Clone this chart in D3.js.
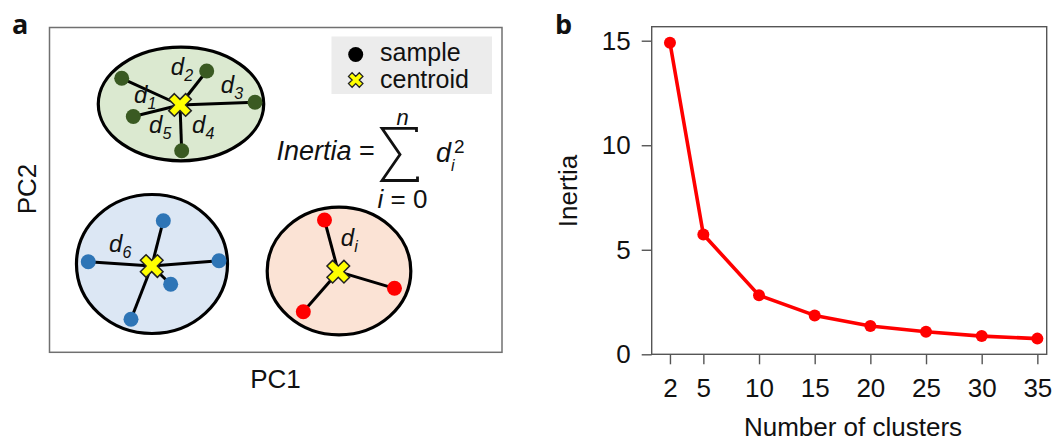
<!DOCTYPE html>
<html>
<head>
<meta charset="utf-8">
<script src="https://cdn.jsdelivr.net/npm/d3@7"></script>
<style>
body { margin: 0; background: #fff; }
svg { display: block; font-family: "Liberation Sans", Arial, sans-serif; }
</style>
</head>
<body>
<div id="vue"></div>
<script>
// panel b : courbe du coude
var clusters = [2, 5, 10, 15, 20, 25, 30, 35];
var inertia = [14.9, 5.73, 2.82, 1.86, 1.35, 1.08, 0.87, 0.75];
var xTicks = [2, 5, 10, 15, 20, 25, 30, 35];
var yTicks = [0, 5, 10, 15];

// panel a : schéma (PC1 / PC2 en unités arbitraires 0-100)
var centroidPC1 = [28.84, 22.59, 63.82];
var centroidPC2 = [76.14, 26.57, 24.82];
var samplePC1 = [[15.96, 34.74, 45.41, 18.52, 29.21], [25.15, 8.57, 37.46, 26.78, 18.01], [60.77, 76.24, 56.09]];
var samplePC2 = [[84.36, 86.61, 76.97, 72.60, 62.07], [40.52, 27.89, 28.20, 20.94, 10.16], [40.73, 19.70, 12.50]];
var hullPC1 = [29.06, 22.65, 63.98];
var hullPC2 = [76.45, 27.19, 25.03];
var hullR1 = [18.28, 16.69, 15.87];
var hullR2 = [17.49, 21.40, 19.64];
var distSub = ["1", "2", "3", "5", "4", "6", "i"];
var distPC1 = [18.70, 26.8, 37.86, 22.01, 31.51, 13.17, 64.37];
var distPC2 = [76.66, 85.37, 79.74, 67.43, 67.43, 31.03, 32.73];

var legendLabels = ["sample", "centroid"];

var hullFill = ["#dbe9d0", "#dce7f4", "#fbe3d5"];
var dotFill = ["#3a5a22", "#2e75b6", "#ff0000"];

var svg = d3.select("#vue").append("svg")
  .attr("width", 1058)
  .attr("height", 443);

// ================= panel a =================
var xA = d3.scaleLinear().domain([0, 100]).range([49.5, 502]);
var yA = d3.scaleLinear().domain([0, 100]).range([352.3, 27.5]);

svg.append("rect")
  .attr("x", xA(0)).attr("y", yA(100))
  .attr("width", xA(100) - xA(0)).attr("height", yA(0) - yA(100))
  .attr("fill", "none").attr("stroke", "#707070").attr("stroke-width", 1.5);

var groups = svg.selectAll("g.cluster")
  .data(centroidPC1.map(function (d, i) { return i; }))
  .enter().append("g").attr("class", "cluster");

groups.append("ellipse")
  .attr("cx", function (i) { return xA(hullPC1[i]); })
  .attr("cy", function (i) { return yA(hullPC2[i]); })
  .attr("rx", function (i) { return xA(hullR1[i]) - xA(0); })
  .attr("ry", function (i) { return yA(0) - yA(hullR2[i]); })
  .attr("fill", function (i) { return hullFill[i]; })
  .attr("stroke", "#000").attr("stroke-width", 3.2);

groups.each(function (i) {
  var g = d3.select(this);
  var pts = samplePC1[i].map(function (x, j) { return [x, samplePC2[i][j]]; });
  g.selectAll("line").data(pts).enter().append("line")
    .attr("x1", xA(centroidPC1[i])).attr("y1", yA(centroidPC2[i]))
    .attr("x2", function (p) { return xA(p[0]); })
    .attr("y2", function (p) { return yA(p[1]); })
    .attr("stroke", "#000").attr("stroke-width", 3);
  g.selectAll("circle").data(pts).enter().append("circle")
    .attr("cx", function (p) { return xA(p[0]); })
    .attr("cy", function (p) { return yA(p[1]); })
    .attr("r", 7.5)
    .attr("fill", dotFill[i]);
});

var cross = d3.symbol().type(d3.symbolCross);

groups.append("path")
  .attr("d", cross.size(320)())
  .attr("transform", function (i) {
    return "translate(" + xA(centroidPC1[i]) + "," + yA(centroidPC2[i]) + ") rotate(45)";
  })
  .attr("fill", "#ffff00").attr("stroke", "#222").attr("stroke-width", 1.5);

// étiquettes d_k
var lab = svg.selectAll("text.dist").data(distSub).enter().append("text")
  .attr("class", "dist")
  .attr("x", function (d, i) { return xA(distPC1[i]); })
  .attr("y", function (d, i) { return yA(distPC2[i]); })
  .attr("font-size", 24).attr("font-style", "italic").attr("fill", "#111");
lab.append("tspan").text("d");
lab.append("tspan").attr("dy", 6).attr("font-size", 16).text(function (d) { return d; });

// légende
svg.append("rect")
  .attr("x", 331.5).attr("y", 36.5).attr("width", 160.5).attr("height", 57.5)
  .attr("fill", "#ececec");
svg.append("circle").attr("cx", 355.7).attr("cy", 54.5).attr("r", 7.5).attr("fill", "#000");
svg.append("path")
  .attr("d", cross.size(130)())
  .attr("transform", "translate(355.7,80) rotate(45)")
  .attr("fill", "#ffff00").attr("stroke", "#222").attr("stroke-width", 1.3);
svg.selectAll("text.leg").data(legendLabels).enter().append("text")
  .attr("class", "leg")
  .attr("x", 380)
  .attr("y", function (d, i) { return 60.5 + 27.5 * i; })
  .attr("font-size", 25).attr("fill", "#111")
  .text(function (d) { return d; });

// formule
var f = svg.append("text").attr("x", 276.5).attr("y", 160).attr("font-size", 27).attr("fill", "#111");
f.append("tspan").attr("font-style", "italic").text("Inertia");
f.append("tspan").text(" =");
svg.append("path")
  .attr("d", "M416.5,132 L416.5,128.3 L382,128.3 L400,154.5 L382,180.5 L417.5,180.5 L417.5,176.5")
  .attr("fill", "none").attr("stroke", "#111").attr("stroke-width", 2.8)
  .attr("stroke-linejoin", "miter");
svg.append("text").attr("x", 402.5).attr("y", 125).attr("text-anchor", "middle")
  .attr("font-size", 22).attr("font-style", "italic").attr("fill", "#111").text("n");
var lo = svg.append("text").attr("x", 402.5).attr("y", 208).attr("text-anchor", "middle")
  .attr("font-size", 26).attr("fill", "#111");
lo.append("tspan").attr("font-style", "italic").text("i");
lo.append("tspan").text(" = 0");
svg.append("text").attr("x", 436).attr("y", 161.5).attr("font-size", 27)
  .attr("font-style", "italic").attr("fill", "#111").text("d");
svg.append("text").attr("x", 451).attr("y", 171).attr("font-size", 16)
  .attr("font-style", "italic").attr("fill", "#111").text("i");
svg.append("text").attr("x", 454).attr("y", 153.3).attr("font-size", 19)
  .attr("fill", "#111").text("2");

svg.append("text").attr("x", 275.5).attr("y", 388).attr("text-anchor", "middle")
  .attr("font-size", 26).attr("fill", "#111").text("PC1");
svg.append("text")
  .attr("transform", "translate(36,189) rotate(-90)")
  .attr("text-anchor", "middle")
  .attr("font-size", 26).attr("fill", "#111").text("PC2");

svg.append("text").attr("x", 12).attr("y", 33.5)
  .attr("font-family", "'Open Sans', 'Noto Sans', sans-serif")
  .attr("font-weight", "bold").attr("font-size", 27).attr("fill", "#111").text("a");

// ================= panel b =================
var xB = d3.scaleLinear().domain([0.36, 35.84]).range([651.7, 1046.7]);
var yB = d3.scaleLinear().domain([0, 15.67]).range([354.3, 26.7]);

var axisY = svg.append("g")
  .attr("transform", "translate(" + xB.range()[0] + ",0)")
  .call(d3.axisLeft(yB).tickValues(yTicks).tickSize(10).tickPadding(11));
var axisX = svg.append("g")
  .attr("transform", "translate(0," + yB.range()[0] + ")")
  .call(d3.axisBottom(xB).tickValues(xTicks).tickSize(10).tickPadding(14));

[axisX, axisY].forEach(function (a) {
  a.select(".domain").remove();
  a.selectAll("line").attr("stroke", "#555").attr("stroke-width", 1.4);
  a.selectAll("text")
    .attr("font-family", "'Liberation Sans', Arial, sans-serif")
    .attr("font-size", 26).attr("fill", "#111");
});

svg.append("rect")
  .attr("x", xB.range()[0]).attr("y", yB.range()[1])
  .attr("width", xB.range()[1] - xB.range()[0])
  .attr("height", yB.range()[0] - yB.range()[1])
  .attr("fill", "none").attr("stroke", "#555").attr("stroke-width", 1.4);

var line = d3.line()
  .x(function (d, i) { return xB(clusters[i]); })
  .y(function (d) { return yB(d); });

svg.append("path")
  .datum(inertia)
  .attr("d", line)
  .attr("fill", "none").attr("stroke", "#ff0000").attr("stroke-width", 3.6)
  .attr("stroke-linejoin", "round");

svg.selectAll("circle.pt").data(inertia).enter().append("circle")
  .attr("class", "pt")
  .attr("cx", function (d, i) { return xB(clusters[i]); })
  .attr("cy", function (d) { return yB(d); })
  .attr("r", 6)
  .attr("fill", "#ff0000");

svg.append("text").attr("x", 853).attr("y", 436)
  .attr("text-anchor", "middle").attr("font-size", 26).attr("fill", "#111")
  .text("Number of clusters");
svg.append("text")
  .attr("transform", "translate(577,191) rotate(-90)")
  .attr("text-anchor", "middle").attr("font-size", 26).attr("fill", "#111")
  .text("Inertia");

svg.append("text").attr("x", 555).attr("y", 33.5)
  .attr("font-family", "'Open Sans', 'Noto Sans', sans-serif")
  .attr("font-weight", "bold").attr("font-size", 27).attr("fill", "#111").text("b");
</script>
</body>
</html>
